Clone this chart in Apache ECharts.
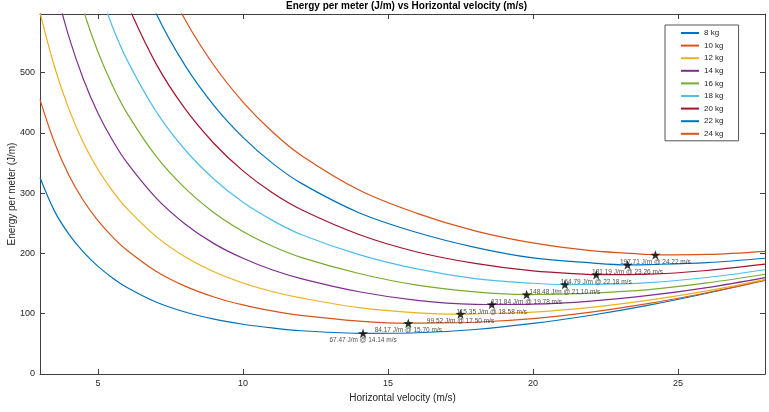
<!DOCTYPE html>
<html>
<head>
<meta charset="utf-8">
<script src="https://cdn.jsdelivr.net/npm/echarts@6/dist/echarts.min.js"></script>
<style>
html, body { margin: 0; padding: 0; background: #fff; }
#chart { width: 769px; height: 412px; }
</style>
</head>
<body>
<div id="chart"></div>
<script>
// velocity grid (m/s) the curves were read at
const velocity = [3, 3.5, 4, 4.5, 5, 5.5, 6, 7, 8, 9, 10, 11, 12, 14, 16, 18, 20, 22, 24, 26, 28];

// energy per meter (J/m), one array per payload mass; null = above the plot
const energy8kg  = [326, 270.3, 231.8, 202.2, 178.6, 159.5, 143.7, 119.6, 102.9, 91.1, 82.6, 76.4, 71.8, 67.5, 68.5, 73.9, 83.9, 97.5, 114.3, 134, 156];
const energy10kg = [455.5, 384.1, 329.4, 287.6, 254.6, 227.6, 205.3, 170.6, 145.8, 127.8, 114.6, 104.8, 97.4, 87.9, 84.5, 85.9, 91.9, 102.6, 117.1, 134.8, 155.3];
const energy12kg = [600, 509.9, 439.2, 383.4, 339.5, 304.0, 274.4, 228.4, 194.6, 169.8, 151.1, 137.0, 126.3, 110.2, 101.6, 99.8, 102.8, 110.7, 122.6, 137.9, 156.6];
const energy14kg = [null, 647.6, 559.0, 488.8, 432.8, 387.9, 350.7, 292.3, 249.1, 216.4, 192.0, 173.0, 158.3, 136.5, 122.3, 115.6, 115.9, 121.0, 130.4, 143.5, 160.1];
const energy16kg = [null, null, 687.8, 603.2, 534.3, 478.8, 432.9, 361.5, 308.4, 267.7, 236.5, 212.4, 193.6, 166.8, 147.5, 136.4, 131.9, 134.3, 140.1, 151.2, 165.6];
const energy18kg = [null, null, null, null, 643.5, 576.4, 521.4, 435.8, 372.2, 323.3, 285.0, 255.4, 231.5, 198.2, 174.4, 158.4, 150.6, 148.7, 151.8, 160.2, 173.0];
const energy20kg = [null, null, null, null, null, 680.5, 615.5, 515.2, 440.3, 382.6, 337.1, 301.1, 273.0, 231.6, 202.5, 183.5, 171.0, 165.0, 165.7, 171.8, 182.3];
const energy22kg = [null, null, null, null, null, null, 715.5, 598.8, 512.3, 445.6, 392.8, 350.4, 316.8, 267.7, 234.8, 210.2, 192.6, 184.4, 181.6, 184.9, 192.1];
const energy24kg = [null, null, null, null, null, null, null, 687, 588.3, 512, 451.4, 402.5, 363.1, 305.4, 266.7, 237.6, 217.5, 204.8, 198.3, 198.4, 203.5];

const massNames = ['8 kg', '10 kg', '12 kg', '14 kg', '16 kg', '18 kg', '20 kg', '22 kg', '24 kg'];
const energyByMass = [energy8kg, energy10kg, energy12kg, energy14kg, energy16kg, energy18kg, energy20kg, energy22kg, energy24kg];

// minimum of each curve (marked with a star)
const minVelocity = [14.14, 15.70, 17.50, 18.58, 19.78, 21.10, 22.18, 23.26, 24.22];
const minEnergy   = [67.47, 84.17, 99.52, 115.35, 131.84, 148.48, 164.79, 181.19, 197.71];

const xTicks = [5, 10, 15, 20, 25];
const yTicks = [0, 100, 200, 300, 400, 500];

// matlab default line colours
const colors = ['#0072BD', '#D95319', '#EDB120', '#7E2F8E', '#77AC30', '#4DBEEE', '#A2142F', '#0072BD', '#D95319'];

const axisColor = '#404040';
const textColor = '#262626';
const font = 'Liberation Sans, Arial, sans-serif';
const star = 'path://M0,-10 L2.35,-3.24 L9.51,-3.09 L3.8,1.24 L5.88,8.09 L0,4 L-5.88,8.09 L-3.8,1.24 L-9.51,-3.09 L-2.35,-3.24 Z';

function curveData(i) {
    const pts = [];
    velocity.forEach(function (v, k) {
        if (energyByMass[i][k] !== null) pts.push([v, energyByMass[i][k]]);
    });
    pts.push([minVelocity[i], minEnergy[i]]);
    pts.sort(function (a, b) { return a[0] - b[0]; });
    return pts;
}

const lineSeries = massNames.map(function (name, i) {
    return {
        name: name,
        type: 'line',
        data: curveData(i),
        symbol: 'none',
        smooth: 0.35,
        clip: true,
        lineStyle: { color: colors[i], width: 1.2 },
        itemStyle: { color: colors[i] },
        z: 2 + i
    };
});

const starSeries = {
    type: 'scatter',
    data: minVelocity.map(function (v, i) { return [v, minEnergy[i]]; }),
    symbol: star,
    symbolSize: [10, 9.5],
    itemStyle: { color: '#000' },
    z: 20,
    label: {
        show: true,
        position: 'bottom',
        distance: -1,
        fontSize: 6.5,
        fontFamily: font,
        color: '#222',
        formatter: function (p) {
            return p.value[1].toFixed(2) + ' J/m @ ' + p.value[0].toFixed(2) + ' m/s';
        }
    }
};

function boxAxis(pos, isX, showLabels) {
    return {
        type: 'value',
        position: pos,
        min: isX ? 3 : 0,
        max: isX ? 28 : 597.5,
        axisLine: { show: true, onZero: false, lineStyle: { color: axisColor, width: 1 } },
        axisTick: { show: true, inside: true, length: 5, customValues: isX ? xTicks : yTicks, lineStyle: { color: axisColor } },
        axisLabel: {
            show: showLabels,
            customValues: isX ? xTicks : yTicks,
            margin: 5,
            fontSize: 9,
            fontFamily: font,
            color: textColor
        },
        splitLine: { show: false }
    };
}

const xMain = boxAxis('bottom', true, true);
xMain.name = 'Horizontal velocity (m/s)';
xMain.nameLocation = 'middle';
xMain.nameGap = 16;
xMain.nameTextStyle = { fontSize: 10, color: textColor, fontFamily: font };

const yMain = boxAxis('left', false, true);
yMain.name = 'Energy per meter (J/m)';
yMain.nameLocation = 'middle';
yMain.nameGap = 23;
yMain.nameMoveOverlap = false;
yMain.nameTextStyle = { fontSize: 10, color: textColor, fontFamily: font };

const option = {
    backgroundColor: '#fff',
    animation: false,
    title: {
        text: 'Energy per meter (J/m) vs Horizontal velocity (m/s)',
        left: 286,
        top: 1,
        padding: 0,
        textStyle: { fontSize: 10, fontWeight: 'bold', color: '#000', fontFamily: font }
    },
    legend: {
        data: massNames,
        orient: 'vertical',
        left: 665,
        top: 25,
        padding: [4, 15, 3, 15],
        itemWidth: 18,
        itemHeight: 8,
        itemGap: 4.6,
        itemStyle: { opacity: 0 },
        borderColor: '#555',
        borderWidth: 1,
        backgroundColor: '#fff',
        textStyle: { fontSize: 8, color: textColor, fontFamily: font }
    },
    grid: { left: 40, right: 4, top: 14, bottom: 38, outerBoundsMode: 'none' },
    xAxis: [xMain, boxAxis('top', true, false)],
    yAxis: [yMain, boxAxis('right', false, false)],
    series: lineSeries.concat([starSeries])
};

const myChart = echarts.init(document.getElementById('chart'));
myChart.setOption(option);
</script>
</body>
</html>
